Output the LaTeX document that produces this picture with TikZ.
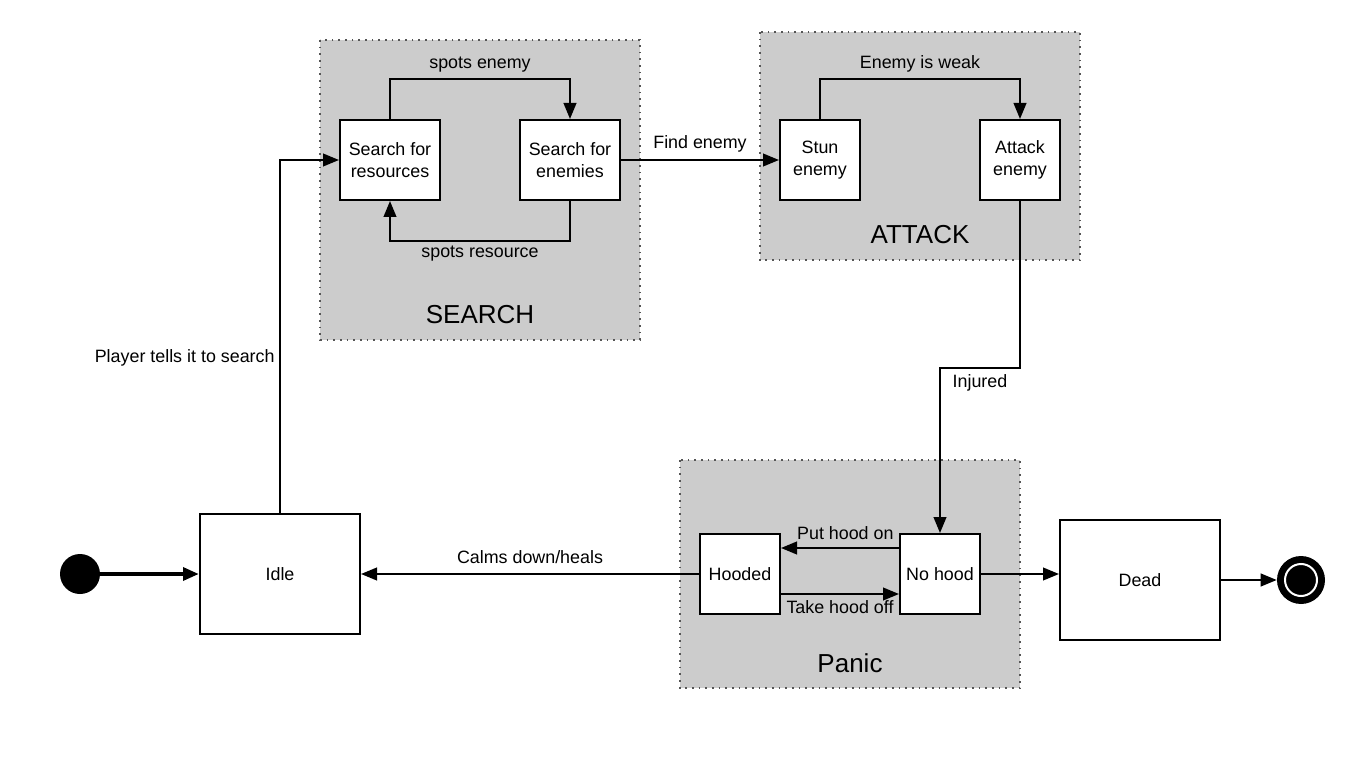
\documentclass[tikz,border=0pt]{standalone}
\usepackage{fontspec}
\setmainfont{Liberation Sans}
\usetikzlibrary{arrows.meta}
\definecolor{grisGrupo}{HTML}{CCCCCC}
\definecolor{bordeGrupo}{HTML}{555555}

\begin{document}
\begin{tikzpicture}[
    x=0.75pt, y=-0.75pt,
    estado/.style={rectangle, draw=black, line width=1.5pt, fill=white, minimum width=60pt, minimum height=60pt, inner sep=2pt, font=\fontsize{13.4}{16}\selectfont, align=center},
    grande/.style={estado, minimum width=120pt, minimum height=90pt},
    grupo/.style={draw=bordeGrupo, fill=grisGrupo, line width=0.8pt, dash pattern=on 1.2pt off 3.8pt},
    titulo/.style={font=\fontsize{19.5}{23}\selectfont},
    etiq/.style={font=\fontsize{13.4}{16}\selectfont},
    flecha/.style={line width=1.5pt, -{Triangle[length=12pt,width=9.5pt]}},
    inicio/.style={circle, fill=black, minimum size=30pt, inner sep=0pt},
    fin/.style={circle, fill=black, minimum size=36pt, inner sep=0pt,
      path picture={\draw[white, line width=1.5pt] (path picture bounding box.center) circle (12pt);}}
  ]
  \useasboundingbox (0,0) rectangle (1360,759);

  % Grupos
  \draw[grupo] (320,40) rectangle (640,340);
  \node[titulo] (tSearch) at (480,315) {SEARCH};
  \draw[grupo] (760,32) rectangle (1080,260);
  \node[titulo] (tAttack) at (920,235) {ATTACK};
  \draw[grupo] (680,460) rectangle (1020,688);
  \node[titulo] (tPanic) at (850,663) {Panic};

  % Estados
  \node[inicio] (ini) at (80,574) {};
  \node[grande] (idle) at (280,574) {Idle};
  \node[estado, minimum width=75pt] (res) at (390,160) {Search for\\resources};
  \node[estado, minimum width=75pt] (ene) at (570,160) {Search for\\enemies};
  \node[estado] (stun) at (820,160) {Stun\\enemy};
  \node[estado] (atk) at (1020,160) {Attack\\enemy};
  \node[estado] (hooded) at (740,574) {Hooded};
  \node[estado] (nohood) at (940,574) {No hood};
  \node[grande] (dead) at (1140,580) {Dead};
  \node[fin] (final) at (1301,580) {};

  % Transiciones
  \draw[flecha, line width=3pt] (ini) -- (idle.west);
  \draw[flecha] (idle.north) |- node[etiq, left, pos=0.22] {Player tells it to search} (res.west);
  \draw[flecha] (res.north) -- ++(0,-40) -| node[etiq, above=1pt, pos=0.25] {spots enemy} (ene.north);
  \draw[flecha] (ene.south) -- ++(0,40) -| node[etiq, below, pos=0.25] {spots resource} (res.south);
  \draw[flecha] (ene.east) -- node[etiq, above=1.5pt] {Find enemy} (stun.west);
  \draw[flecha] (stun.north) -- ++(0,-40) -| node[etiq, above=1pt, pos=0.25] {Enemy is weak} (atk.north);
  \draw[flecha] (atk.south) -- ++(0,167) -| node[etiq, below=0.5pt, pos=0.25] {Injured} (nohood.north);
  \draw[flecha] ([yshift=19.5pt]nohood.west) -- node[etiq, above=2.5pt, xshift=4pt] {Put hood on} ([yshift=19.5pt]hooded.east);
  \draw[flecha] ([yshift=-15pt]hooded.east) -- node[etiq, below=1pt] {Take hood off} ([yshift=-15pt]nohood.west);
  \draw[flecha] (hooded.west) -- node[etiq, above=3.5pt] {Calms down/heals} (idle.east);
  \draw[flecha] (nohood.east) -- (nohood.east -| dead.west);
  \draw[flecha] (dead.east) -- (final.west);
\end{tikzpicture}
\end{document}
